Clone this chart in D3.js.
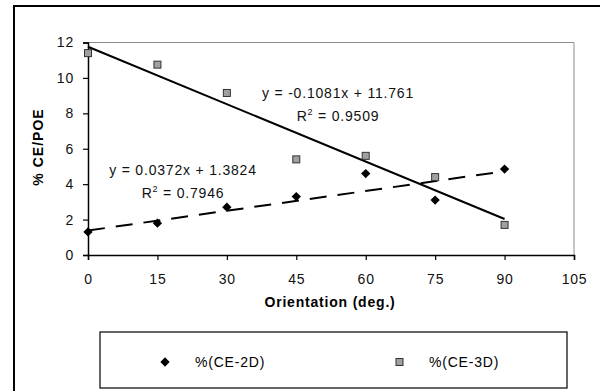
<!DOCTYPE html>
<html lang="en">
<head>
<meta charset="utf-8">
<title>CE/POE vs orientation</title>
<script src="https://cdnjs.cloudflare.com/ajax/libs/d3/7.8.5/d3.min.js"></script>
<style>
  body { margin: 0; background: #fff; }
  svg { display: block; font-family: "Liberation Sans", Arial, sans-serif; }
</style>
</head>
<body>
<svg width="600" height="391"></svg>
<script>
// data
const orientation = [0, 15, 30, 45, 60, 75, 90];
const ce2d = [1.3, 1.8, 2.7, 3.3, 4.6, 3.1, 4.85];
const ce3d = [11.4, 10.75, 9.15, 5.4, 5.6, 4.4, 1.7];
const xTicks = [0, 15, 30, 45, 60, 75, 90, 105];
const yTicks = [0, 2, 4, 6, 8, 10, 12];
// trendline coefficients (slope, intercept) as printed
const fit2d = [0.0372, 1.3824];
const fit3d = [-0.1081, 11.761];

const svg = d3.select("svg");
const LS = "0.8px"; // the original text is slightly stretched

// outer frame
svg.append("rect")
  .attr("x", 14).attr("y", 6).attr("width", 600).attr("height", 400)
  .attr("fill", "none").attr("stroke", "#000").attr("stroke-width", 2);

const x = d3.scaleLinear().domain([0, 105]).range([88, 574]);
const y = d3.scaleLinear().domain([0, 12]).range([255, 42.5]);

// plot area border (grey top/right)
svg.append("path")
  .attr("d", `M${x(0)},${y(12)}H${x(105)}V${y(0)}`)
  .attr("fill", "none").attr("stroke", "#8c8c8c").attr("stroke-width", 1);

// axes
const xAxis = svg.append("g")
  .attr("transform", `translate(0,${y(0)})`)
  .call(d3.axisBottom(x).tickValues(xTicks).tickSize(5).tickPadding(14));
const yAxis = svg.append("g")
  .attr("transform", `translate(${x(0)},0)`)
  .call(d3.axisLeft(y).tickValues(yTicks).tickSize(5).tickPadding(9));
[xAxis, yAxis].forEach(g => {
  g.select(".domain").attr("stroke", "#000").attr("stroke-width", 1.5);
  g.selectAll(".tick line").attr("stroke", "#000").attr("stroke-width", 1.2);
  g.selectAll(".tick text").attr("font-size", 14).attr("fill", "#111")
    .attr("letter-spacing", LS)
    .attr("font-family", "Liberation Sans, Arial, sans-serif");
});

// axis titles
svg.append("text")
  .attr("x", 330).attr("y", 307)
  .attr("text-anchor", "middle").attr("font-size", 14).attr("font-weight", "bold")
  .attr("letter-spacing", LS)
  .text("Orientation (deg.)");
svg.append("text")
  .attr("transform", "translate(43,147) rotate(-90)")
  .attr("text-anchor", "middle").attr("font-size", 14).attr("font-weight", "bold")
  .attr("letter-spacing", "1px")
  .text("% CE/POE");

// trendlines
const line = d3.line().x(d => x(d[0])).y(d => y(d[1]));
const ends = [0, 90];
svg.append("path")
  .attr("d", line(ends.map(v => [v, fit3d[0] * v + fit3d[1]])))
  .attr("fill", "none").attr("stroke", "#000").attr("stroke-width", 2);
svg.append("path")
  .attr("d", line(ends.map(v => [v, fit2d[0] * v + fit2d[1]])))
  .attr("fill", "none").attr("stroke", "#000").attr("stroke-width", 2)
  .attr("stroke-dasharray", "17,11");

// markers
const diamond = d3.symbol().type(d3.symbolDiamond2).size(55);
svg.append("g").selectAll("path")
  .data(orientation.map((o, i) => [o, ce2d[i]]))
  .join("path")
  .attr("transform", d => `translate(${x(d[0])},${y(d[1])})`)
  .attr("d", diamond)
  .attr("fill", "#000");

svg.append("g").selectAll("rect")
  .data(orientation.map((o, i) => [o, ce3d[i]]))
  .join("rect")
  .attr("x", d => x(d[0]) - 3.5).attr("y", d => y(d[1]) - 3.5)
  .attr("width", 7).attr("height", 7)
  .attr("fill", "#a0a0a0").attr("stroke", "#333").attr("stroke-width", 1);

// equation labels
function eqLabel(cx, y1, slope, icpt, r2) {
  const sign = slope < 0 ? "-" : "";
  svg.append("text").attr("x", cx).attr("y", y1)
    .attr("text-anchor", "middle").attr("font-size", 14).attr("fill", "#111")
    .attr("letter-spacing", LS)
    .text(`y = ${sign}${Math.abs(slope)}x + ${icpt}`);
  const r = svg.append("text").attr("x", cx).attr("y", y1 + 23)
    .attr("text-anchor", "middle").attr("font-size", 14).attr("fill", "#111")
    .attr("letter-spacing", LS);
  r.append("tspan").text("R");
  r.append("tspan").attr("dy", -6).attr("font-size", 9).text("2");
  r.append("tspan").attr("dy", 6).text(" = " + r2);
}
eqLabel(338, 98, fit3d[0], fit3d[1], "0.9509");
eqLabel(183, 175, fit2d[0], fit2d[1], "0.7946");

// legend
svg.append("rect")
  .attr("x", 100).attr("y", 332).attr("width", 467).attr("height", 56)
  .attr("fill", "#fff").attr("stroke", "#000").attr("stroke-width", 1.2);
svg.append("path")
  .attr("transform", "translate(165,362)")
  .attr("d", diamond).attr("fill", "#000");
svg.append("text").attr("x", 195).attr("y", 367).attr("font-size", 14)
  .attr("letter-spacing", LS)
  .text("%(CE-2D)");
svg.append("rect")
  .attr("x", 396).attr("y", 358.5).attr("width", 7).attr("height", 7)
  .attr("fill", "#a0a0a0").attr("stroke", "#333").attr("stroke-width", 1);
svg.append("text").attr("x", 429).attr("y", 367).attr("font-size", 14)
  .attr("letter-spacing", LS)
  .text("%(CE-3D)");
</script>
</body>
</html>
